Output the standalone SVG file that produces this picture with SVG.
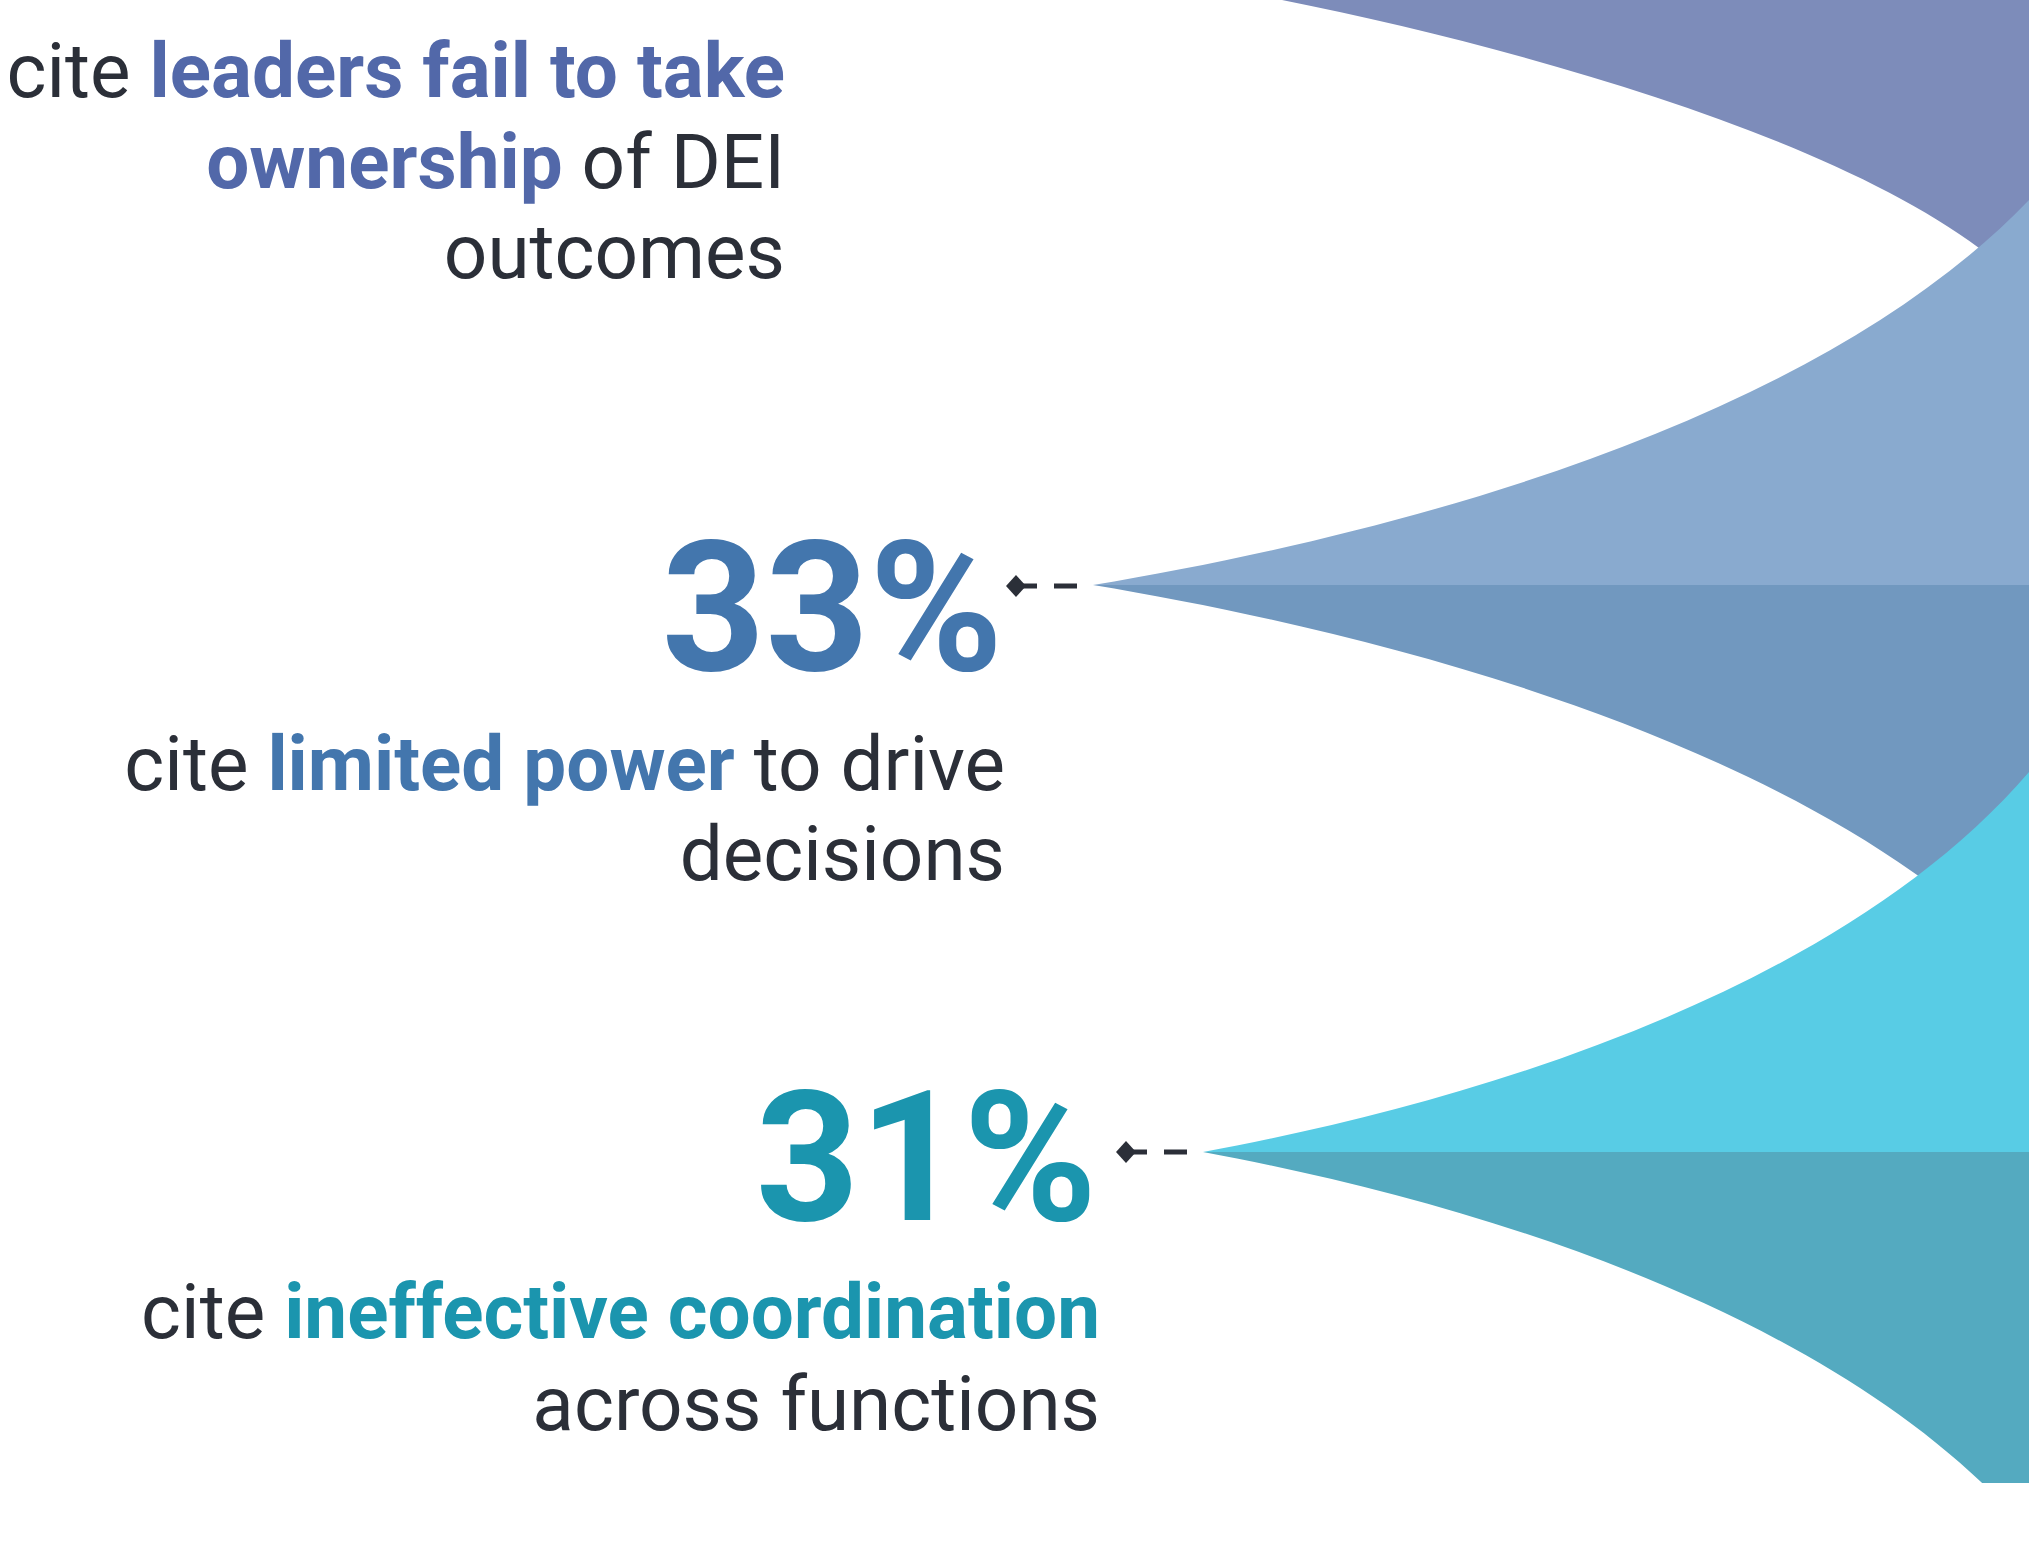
<svg xmlns="http://www.w3.org/2000/svg" width="2029" height="1544" viewBox="0 0 2029 1544">
<style>
text{font-family:Roboto,"Liberation Sans",sans-serif;}
.body{font-size:76.4px;fill:#2B2F38;}
.b{font-weight:700;}
.num{font-size:181px;font-weight:700;}
.conn{fill:none;stroke:#2B2F38;stroke-width:5;stroke-dasharray:23 17;}
</style>
<defs>
<marker id="dia" viewBox="0 0 20 22" markerWidth="20" markerHeight="22" refX="10" refY="11" markerUnits="userSpaceOnUse" orient="0">
<path d="M0,11 L10,0 L20,11 L10,22 Z" fill="#2B2F38"/>
</marker>
<clipPath id="bottomClip"><rect x="0" y="0" width="2029" height="1483"/></clipPath>
</defs>
<rect width="2029" height="1544" fill="#FFFFFF"/>
<g id="petal-top">
<path d="M1282,0 C1522,48 1829,136 1979,248 L2029,290 L2029,0 Z" fill="#7D8CBA"/>
</g>
<g id="petal-middle">
<path d="M1093,585 C1393,535 1813,425 2029,200 L2029,585 Z" fill="#89AACF"/>
<path d="M1093,585 C1393,635 1813,745 2029,970 L2029,585 Z" fill="#7198BF"/>
</g>
<g id="petal-bottom">
<path d="M1203,1152 C1468,1103 1838,994 2029,772 L2029,1152 Z" fill="#58CCE5"/>
<path d="M1203,1152 C1468,1201 1838,1310 2029,1532 L2029,1152 Z" fill="#54AAC0" clip-path="url(#bottomClip)"/>
</g>
<g id="label-top">
<text class="body" text-anchor="end" x="785" y="97">cite <tspan class="b" fill="#5268A9">leaders fail to take</tspan></text>
<text class="body" text-anchor="end" x="785" y="188"><tspan class="b" fill="#5268A9">ownership</tspan> of DEI</text>
<text class="body" text-anchor="end" x="785" y="278">outcomes</text>
</g>
<g id="label-33">
<text class="num" text-anchor="end" x="1003" y="670" fill="#4376AD">33%</text>
<text class="body" text-anchor="end" x="1005" y="790">cite <tspan class="b" fill="#4376AD">limited power</tspan> to drive</text>
<text class="body" text-anchor="end" x="1005" y="880">decisions</text>
</g>
<g id="label-31">
<text class="num" text-anchor="end" x="1097" y="1220" fill="#1B95AE">31%</text>
<text class="body" text-anchor="end" x="1100" y="1338">cite <tspan class="b" fill="#1B95AE">ineffective coordination</tspan></text>
<text class="body" text-anchor="end" x="1100" y="1430">across functions</text>
</g>
<g id="connectors">
<path class="conn" d="M1077,586 H1016" marker-end="url(#dia)"/>
<path class="conn" d="M1187,1152 H1126" marker-end="url(#dia)"/>
</g>
</svg>
